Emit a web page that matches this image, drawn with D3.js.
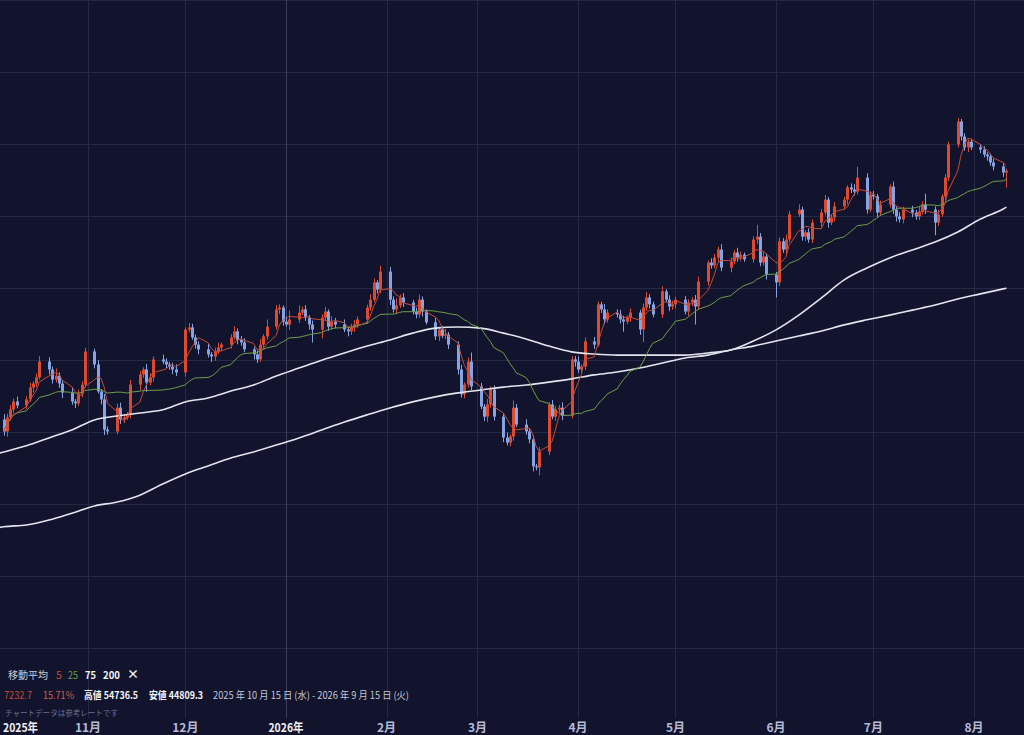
<!DOCTYPE html>
<html>
<head>
<meta charset="utf-8">
<script src="https://cdn.jsdelivr.net/npm/d3@7"></script>
<style>
  body { margin: 0; background: #12142d; }
  text { font-family: "Noto Sans CJK JP", "Noto Sans", sans-serif; }
</style>
</head>
<body>
<svg id="chart" width="1024" height="735"></svg>
<script>
// daily closes, Oct 6 2025 .. Aug 11 2026 (weekdays), one row per week
const closes = [
  46030, 46420, 46640, 46860, 46750,
  46920, 47250, 47360, 47530, 47970,
  47750, 47470, 47580, 47360, 47110,
  46860, 46810, 47080, 47330, 48250,
  47890, 47140, 46920, 46080, 46030,
  46690, 46360, 46420, 46500, 47330,
  47610, 47750, 47390, 47530, 48030,
  47970, 47890, 47830, 47750, 47670,
  48860, 48920, 48640, 48440, 48310,
  48170, 48110, 48250, 48360, 48440,
  48640, 48810, 48580, 48500, 48310,
  48170, 48030, 48440, 48670, 48940,
  49420, 49470, 49080, 49000, 49140,
  49330, 49420, 49190, 49000, 48860,
  49190, 49360, 48940, 49080, 49000,
  48860, 48810, 48920, 49000, 49140,
  49470, 49690, 50170, 49970, 50470,
  49690, 49420, 49530, 49750, 49610,
  49360, 49280, 49690, 49360, 49060,
  48670, 48860, 48690, 48720, 48440,
  47750, 47060, 47330, 47970, 47280,
  46720, 46440, 46780, 47190, 46440,
  45860, 45720, 45890, 46690, 46220,
  46030, 45810, 45060, 45030, 45470,
  46780, 46440, 46640, 46690, 46470,
  48030, 47970, 47750, 47830, 48530,
  48440, 49560, 49420, 49140, 49330,
  49280, 49140, 49080, 49190, 49330,
  48860, 49470, 49750, 49560, 49280,
  49920, 49690, 49500, 49560, 49690,
  49360, 49610, 49690, 49500, 50190,
  50720, 50640, 50860, 51080, 50580,
  50750, 51000, 50860, 50940, 50810,
  51360, 51440, 50720, 50890, 50390,
  50170, 51310, 51080, 51360, 52060,
  52190, 51440, 51560, 51360, 51830,
  52110, 52470, 51830, 51970, 52280,
  52470, 52810, 52750, 52690, 53080,
  52190, 52610, 52560, 52110, 52330,
  52830, 52190, 52000, 51920, 52190,
  52110, 52000, 52140, 52330, 52190,
  51830, 52060, 52560, 53080, 54000,
  54640, 54220, 53920, 54080, 53920,
  53860, 53720, 53670, 53500, 53390,
  53220, 53270
];
const firstOpen = 46360;

// wick lengths above / below the body, in points
const upperWicks = [
  150, 100, 120, 80, 140,  90, 130, 60, 110, 150,  120, 80, 200, 90, 100,
  140, 70, 110, 90, 100,  80, 120, 60, 150, 90,  110, 140, 90, 70, 130,
  100, 60, 150, 120, 80,  130, 90, 70, 110, 140,  60, 120, 100, 80, 90,
  150, 70, 110, 130, 60,  90, 140, 80, 100, 120,  70, 110, 150, 60, 200,
  120, 90, 60, 140, 250,  200, 80, 120, 70, 110,  90, 130, 60, 150, 100,
  140, 70, 100, 120, 90,  80, 150, 110, 60, 160,  130, 90, 200, 80, 120,
  70, 110, 140, 90, 60,  120, 80, 100, 150, 70,  90, 130, 60, 110, 250,
  100, 70, 150, 90, 120,  80, 140, 60, 200, 100,  150, 90, 110, 70, 130,
  60, 120, 100, 80, 150,  100, 90, 140, 60, 110,  120, 80, 70, 150, 90,
  90, 130, 100, 60, 120,  80, 110, 150, 90, 70,  140, 60, 120, 100, 80,
  100, 90, 70, 130, 140,  60, 120, 100, 80, 150,  110, 70, 130, 90, 60,
  90, 330, 100, 120, 80,  70, 110, 90, 140, 100,  150, 80, 60, 110, 90,
  100, 130, 70, 90, 120,  80, 60, 110, 150, 300,  120, 90, 100, 70, 110,
  60, 140, 90, 120, 80,  110, 70, 130, 90, 300,  90, 120, 60, 100, 80,
  100, 70, 90, 60, 80,  70, 90, 60, 80, 100,  90, 60
];
const lowerWicks = [
  120, 150, 90, 110, 80,  100, 70, 130, 90, 60,  140, 110, 80, 120, 150,
  90, 130, 70, 100, 80,  110, 60, 140, 150, 90,  80, 120, 100, 70, 110,
  150, 90, 260, 80, 120,  70, 110, 90, 130, 100,  120, 80, 60, 110, 140,
  90, 150, 120, 70, 100,  110, 60, 130, 90, 80,  140, 100, 70, 120, 90,
  80, 130, 110, 60, 150,  100, 70, 90, 140, 360,  250, 90, 120, 80, 110,
  70, 140, 100, 130, 90,  120, 80, 60, 110, 100,  150, 90, 130, 70, 120,
  80, 110, 90, 140, 60,  100, 130, 70, 90, 120,  140, 90, 110, 80, 100,
  70, 120, 150, 90, 110,  130, 80, 100, 120, 70,  90, 110, 140, 80, 220,
  100, 70, 120, 90, 130,  80, 140, 90, 110, 100,  120, 60, 100, 130, 90,
  90, 110, 280, 70, 120,  150, 350, 90, 110, 80,  100, 70, 130, 90, 110,
  80, 120, 100, 500, 90,  110, 90, 70, 120, 100,  130, 80, 110, 90, 70,
  90, 120, 100, 80, 140,  420, 100, 90, 130, 80,  70, 110, 120, 90, 100,
  120, 80, 140, 70, 110,  90, 130, 100, 110, 80,  110, 70, 90, 120, 100,
  80, 120, 140, 90, 110,  130, 90, 100, 80, 120,  350, 100, 70, 110, 90,
  80, 110, 90, 130, 70,  100, 80, 120, 90, 110,  120, 420
];

// 75 / 200 day averages read at Oct 1, every Monday, and Aug 11
const ma75 = [
  45350, 45460, 45630, 45850, 46070, 46350, 46460, 46540, 46630, 46850, 46960,
  47150, 47320, 47570, 47790, 48010, 48210, 48400, 48570, 48760, 48900, 48930,
  48900, 48760, 48600, 48400, 48240, 48180, 48150, 48150, 48150, 48150, 48210,
  48290, 48540, 48850, 49260, 49740, 50240, 50570, 50850, 51070, 51290, 51570,
  51930, 52210, 52260
];
const ma200 = [
  43290, 43380, 43430, 43570, 43760, 43960, 44070, 44260, 44570, 44850, 45070,
  45290, 45460, 45650, 45850, 46070, 46290, 46490, 46680, 46850, 46990, 47100,
  47180, 47260, 47320, 47400, 47490, 47600, 47680, 47790, 47930, 48070, 48150,
  48290, 48400, 48540, 48680, 48820, 48990, 49130, 49260, 49400, 49540, 49710,
  49850, 49990, 50010
];

const priceTicks = [40000, 42000, 44000, 46000, 48000, 50000, 52000, 54000, 56000, 58000];
const monthLabels = ["2025年", "11月", "12月", "2026年", "2月", "3月", "4月", "5月", "6月", "7月", "8月"];

const days = d3.timeDay.range(new Date(2025, 9, 6), new Date(2026, 7, 12))
  .filter(d => d.getDay() !== 0 && d.getDay() !== 6);
const maDates = [new Date(2025, 9, 1)]
  .concat(d3.timeMonday.range(new Date(2025, 9, 6), new Date(2026, 7, 11)))
  .concat([new Date(2026, 7, 11)]);
const months = d3.timeMonth.range(new Date(2025, 9, 1), new Date(2026, 8, 1));

const candles = days.map((d, i) => {
  const o = i ? closes[i - 1] : firstOpen;
  const c = closes[i];
  return { date: d, o: o, c: c, h: Math.max(o, c) + upperWicks[i], l: Math.min(o, c) - lowerWicks[i] };
});

function movingAverage(n) {
  return closes.map((c, i) => ({ date: days[i], v: d3.mean(closes.slice(Math.max(0, i - n + 1), i + 1)) }));
}

const svg = d3.select('#chart');
const W = 1024, H = 735;

const x = d3.scaleTime()
  .domain([new Date(2025, 9, 1), new Date(2026, 7, 1)])
  .range([-12.6, 974]);
const y = d3.scaleLinear()
  .domain([40000, 54000])
  .range([648.5, 144.5]);

svg.append('rect').attr('width', W).attr('height', H).attr('fill', '#12142d');

// grid
svg.append('g')
  .selectAll('line')
  .data(priceTicks)
  .join('line')
  .attr('x1', 0).attr('x2', W)
  .attr('y1', d => y(d)).attr('y2', d => y(d))
  .attr('stroke', '#252944')
  .attr('stroke-width', 1);

svg.append('g')
  .selectAll('line')
  .data(months)
  .join('line')
  .attr('x1', d => Math.round(x(d)) + 0.5)
  .attr('x2', d => Math.round(x(d)) + 0.5)
  .attr('y1', 0).attr('y2', 718)
  .attr('stroke', d => d.getMonth() === 0 ? '#3d4058' : '#252944')
  .attr('stroke-width', 1);

// candles
const up = '#dc4a2f', down = '#86a3e4';
const cg = svg.append('g');
cg.selectAll('line')
  .data(candles)
  .join('line')
  .attr('x1', d => Math.round(x(d.date)) + 0.5)
  .attr('x2', d => Math.round(x(d.date)) + 0.5)
  .attr('y1', d => y(d.h))
  .attr('y2', d => y(d.l))
  .attr('stroke', d => d.c >= d.o ? up : down)
  .attr('stroke-width', 1);
cg.selectAll('rect')
  .data(candles)
  .join('rect')
  .attr('x', d => Math.round(x(d.date)) - 1)
  .attr('width', 3)
  .attr('y', d => y(Math.max(d.o, d.c)))
  .attr('height', d => Math.max(1, Math.abs(y(d.o) - y(d.c))))
  .attr('fill', d => d.c >= d.o ? up : down);

// moving averages
const line = d3.line().x(d => x(d.date)).y(d => y(d.v));
const smooth = d3.line().x(d => x(d.date)).y(d => y(d.v)).curve(d3.curveMonotoneX);
const longMa = (vals) => vals.map((v, i) => ({ date: maDates[i], v: v }));

svg.append('path').datum(longMa(ma200))
  .attr('d', smooth).attr('fill', 'none')
  .attr('stroke', '#e4e4ee').attr('stroke-width', 1.6);
svg.append('path').datum(longMa(ma75))
  .attr('d', smooth).attr('fill', 'none')
  .attr('stroke', '#e4e4ee').attr('stroke-width', 1.6);
svg.append('path').datum(movingAverage(25))
  .attr('d', line).attr('fill', 'none')
  .attr('stroke', '#6d9e48').attr('stroke-width', 1);
svg.append('path').datum(movingAverage(5))
  .attr('d', line).attr('fill', 'none')
  .attr('stroke', '#c44c36').attr('stroke-width', 1);

// month labels
svg.append('g')
  .selectAll('text')
  .data(months)
  .join('text')
  .attr('x', (d, i) => i === 0 ? 3 : x(d))
  .attr('y', 732)
  .attr('text-anchor', (d, i) => i === 0 ? 'start' : 'middle')
  .attr('font-size', 12)
  .attr('font-weight', 'bold')
  .attr('fill', d => d.getMonth() === 0 || d.getMonth() === 9 ? '#f2f2f6' : '#b6bad6')
  .attr('textLength', d => d.getMonth() === 0 || d.getMonth() === 9 ? 35 : null)
  .attr('lengthAdjust', 'spacingAndGlyphs')
  .text((d, i) => monthLabels[i]);

// legend
const lg = svg.append('g');
function label(x0, y0, txt, color, size, weight, len) {
  const t = lg.append('text')
    .attr('x', x0).attr('y', y0)
    .attr('font-size', size)
    .attr('font-weight', weight || 'normal')
    .attr('fill', color)
    .text(txt);
  if (len) t.attr('textLength', len).attr('lengthAdjust', 'spacingAndGlyphs');
}
label(8, 679, '移動平均', '#c9cbd9', 10.5, 'normal', 40);
label(56, 679, '5', '#c44c36', 10.5, 'normal');
label(68, 679, '25', '#6d9e48', 10.5, 'normal', 10);
label(85, 679, '75', '#f4f4f8', 10.5, 'bold', 11);
label(103, 679, '200', '#f4f4f8', 10.5, 'bold', 17);
label(127, 679, '×', '#f4f4f8', 12, 'bold');

label(4, 699, '7232.7', '#c24a38', 10, 'normal', 28);
label(43, 699, '15.71%', '#c9604c', 10, 'normal', 31);
label(84, 699, '高値 54736.5', '#f4f4f8', 10, 'bold', 54);
label(149, 699, '安値 44809.3', '#f4f4f8', 10, 'bold', 54);
label(213, 699, '2025 年 10 月 15 日 (水) - 2026 年 9 月 15 日 (火)', '#c4c6d6', 10, 'normal', 196);

label(5, 716, 'チャートデータは参考レートです', '#6c7090', 7.5, 'normal', 113);
</script>
</body>
</html>
